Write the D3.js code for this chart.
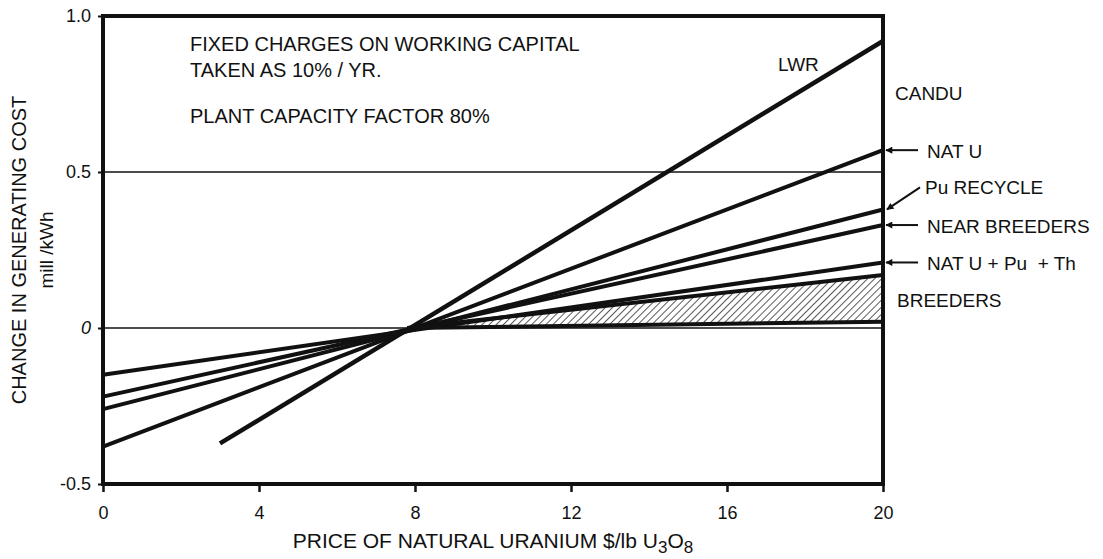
<!DOCTYPE html>
<html>
<head>
<meta charset="utf-8">
<script src="https://cdn.jsdelivr.net/npm/d3@7"></script>
<style>
  body { margin: 0; background: #fff; }
  text { font-family: "Liberation Sans", Arial, Helvetica, sans-serif; fill: #111; }
</style>
</head>
<body>
<svg id="chart" width="1103" height="559"></svg>
<script>
// straight lines, each given by its two end points (price $/lb, change mill/kWh)
var lineNames  = ["LWR", "CANDU NAT U", "Pu RECYCLE", "NEAR BREEDERS", "NAT U + Pu + Th", "BREEDERS top", "BREEDERS bottom"];
var startPrice = [3, 0, 0, 0, 0, 7.8, 7.8];
var startCost  = [-0.37, -0.38, -0.26, -0.22, -0.15, 0, 0];
var endPrice   = [20, 20, 20, 20, 20, 20, 20];
var endCost    = [0.92, 0.57, 0.38, 0.33, 0.21, 0.17, 0.02];

var xTicks = [0, 4, 8, 12, 16, 20];
var yTicks = [1.0, 0.5, 0, -0.5];
var yTickLabels = ["1.0", "0.5", "0", "-0.5"];
var gridValues = [0.5, 0];

var noteLines = ["FIXED CHARGES ON WORKING CAPITAL", "TAKEN AS 10% / YR.", "PLANT CAPACITY FACTOR 80%"];

var svg = d3.select("#chart");
var margin = {top: 16, right: 220, bottom: 75, left: 103};
var width = 1103, height = 559;

var x = d3.scaleLinear().domain([0, 20]).range([margin.left, width - margin.right]);
var y = d3.scaleLinear().domain([-0.5, 1]).range([height - margin.bottom, margin.top]);

var defs = svg.append("defs");
defs.append("pattern")
    .attr("id", "hatch")
    .attr("patternUnits", "userSpaceOnUse")
    .attr("width", 5).attr("height", 5)
    .attr("patternTransform", "rotate(45)")
  .append("line")
    .attr("x1", 0).attr("y1", 0).attr("x2", 0).attr("y2", 5)
    .attr("stroke", "#111").attr("stroke-width", 1.4);

defs.append("marker")
    .attr("id", "arrow")
    .attr("viewBox", "0 0 10 10")
    .attr("refX", 9).attr("refY", 5)
    .attr("markerWidth", 10).attr("markerHeight", 7)
    .attr("markerUnits", "userSpaceOnUse")
    .attr("orient", "auto")
  .append("path")
    .attr("d", "M0,0 L10,5 L0,10 Z")
    .attr("fill", "#111");

// grid lines
svg.append("g").selectAll("line").data(gridValues).enter().append("line")
    .attr("x1", x(0)).attr("x2", x(20))
    .attr("y1", function(d) { return y(d); })
    .attr("y2", function(d) { return y(d); })
    .attr("stroke", "#111").attr("stroke-width", 1.6);

// hatched band between the two breeder lines
var breederArea = [
    [startPrice[5], startCost[5]],
    [endPrice[5], endCost[5]],
    [endPrice[6], endCost[6]],
    [startPrice[6], startCost[6]]
];
svg.append("path")
    .attr("d", d3.line().x(function(d) { return x(d[0]); }).y(function(d) { return y(d[1]); })(breederArea) + "Z")
    .attr("fill", "url(#hatch)");

// cost lines
svg.append("g").selectAll("line").data(lineNames).enter().append("line")
    .attr("x1", function(d, i) { return x(startPrice[i]); })
    .attr("y1", function(d, i) { return y(startCost[i]); })
    .attr("x2", function(d, i) { return x(endPrice[i]); })
    .attr("y2", function(d, i) { return y(endCost[i]); })
    .attr("stroke", "#111")
    .attr("stroke-width", function(d, i) { return i == 0 ? 4.5 : 4; })
    .attr("stroke-linecap", "butt");

// frame
svg.append("rect")
    .attr("x", x(0)).attr("y", y(1))
    .attr("width", x(20) - x(0)).attr("height", y(-0.5) - y(1))
    .attr("fill", "none").attr("stroke", "#111").attr("stroke-width", 4);

// x axis ticks + labels
var xAxis = d3.axisBottom(x).tickValues(xTicks).tickSize(8).tickPadding(14).tickFormat(d3.format("d"));
var gx = svg.append("g").attr("transform", "translate(0," + y(-0.5) + ")").call(xAxis);
gx.select(".domain").remove();
gx.selectAll(".tick line").attr("stroke", "#111").attr("stroke-width", 2.5);
gx.selectAll(".tick text").attr("font-size", 18).style("font-family", "Liberation Sans, Arial, sans-serif");

// y axis ticks + labels
var yAxis = d3.axisLeft(y).tickValues(yTicks).tickSize(5).tickPadding(7)
    .tickFormat(function(d, i) { return yTickLabels[i]; });
var gy = svg.append("g").attr("transform", "translate(" + x(0) + ",0)").call(yAxis);
gy.select(".domain").remove();
gy.selectAll(".tick line").attr("stroke", "#111").attr("stroke-width", 2);
gy.selectAll(".tick text").attr("font-size", 18)
    .style("font-family", "Liberation Sans, Arial, sans-serif")
    .style("font-style", function(d) { return d === 0 ? "italic" : "normal"; });

// axis titles
var xTitle = svg.append("text")
    .attr("x", (x(0) + x(20)) / 2).attr("y", 548)
    .attr("text-anchor", "middle").attr("font-size", 21);
xTitle.append("tspan").text("PRICE OF NATURAL URANIUM $/lb U");
xTitle.append("tspan").attr("dy", 5).attr("font-size", 17).text("3");
xTitle.append("tspan").attr("dy", -5).text("O");
xTitle.append("tspan").attr("dy", 5).attr("font-size", 17).text("8");

var yMid = (y(1) + y(-0.5)) / 2;
svg.append("text")
    .attr("transform", "translate(26," + yMid + ") rotate(-90)")
    .attr("text-anchor", "middle").attr("font-size", 20)
    .text("CHANGE IN GENERATING COST");
svg.append("text")
    .attr("transform", "translate(53," + yMid + ") rotate(-90)")
    .attr("text-anchor", "middle").attr("font-size", 19)
    .text("mill /kWh");

// note block
svg.append("g").selectAll("text").data(noteLines).enter().append("text")
    .attr("x", 190)
    .attr("y", function(d, i) { return [51, 77, 123][i]; })
    .attr("font-size", 20)
    .text(function(d) { return d; });

// line labels
var xr = x(20);
svg.append("text").attr("x", 778).attr("y", 71).attr("font-size", 19).text("LWR");
svg.append("text").attr("x", xr + 12).attr("y", 100).attr("font-size", 19).text("CANDU");
svg.append("text").attr("x", xr + 14).attr("y", 307).attr("font-size", 19).text("BREEDERS");

var arrowed = [1, 3, 4];
var arrowLabels = ["NAT U", "NEAR BREEDERS", "NAT U + Pu  + Th"];
arrowed.forEach(function(k, j) {
    var yy = y(endCost[k]);
    svg.append("line")
        .attr("x1", xr + 35).attr("y1", yy).attr("x2", xr + 3).attr("y2", yy)
        .attr("stroke", "#111").attr("stroke-width", 2)
        .attr("marker-end", "url(#arrow)");
    svg.append("text").attr("x", xr + 44).attr("y", yy + 8).attr("font-size", 19)
        .style("white-space", "pre").text(arrowLabels[j]);
});

// Pu recycle has a slanted arrow
var yPu = y(endCost[2]);
svg.append("line")
    .attr("x1", xr + 37).attr("y1", yPu - 22).attr("x2", xr + 4).attr("y2", yPu)
    .attr("stroke", "#111").attr("stroke-width", 2)
    .attr("marker-end", "url(#arrow)");
svg.append("text").attr("x", xr + 42).attr("y", yPu - 15).attr("font-size", 19).text("Pu RECYCLE");
</script>
</body>
</html>
